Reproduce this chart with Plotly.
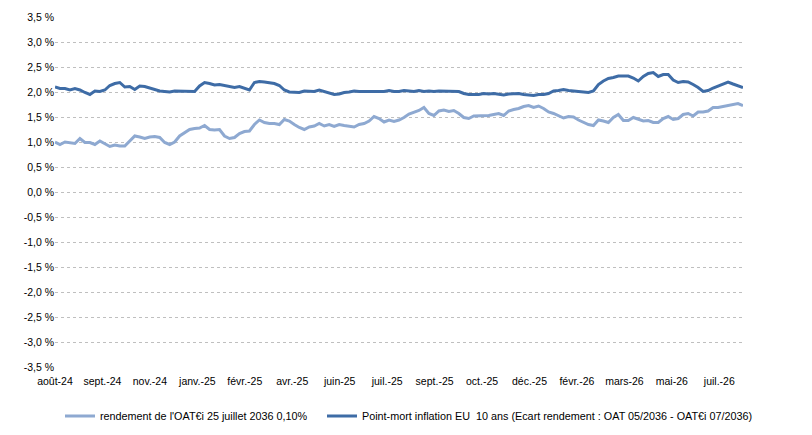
import plotly.graph_objects as go

# --- data (values in %) ---
rendement_oat_ei = [
    1.00, 0.95, 1.00, 0.99, 0.97, 1.07, 0.99, 0.99, 0.95, 1.02,
    0.97, 0.91, 0.94, 0.92, 0.92, 1.02, 1.12, 1.10, 1.07, 1.10,
    1.11, 1.09, 0.99, 0.95, 1.00, 1.12, 1.19, 1.25, 1.27, 1.28,
    1.33, 1.25, 1.24, 1.25, 1.12, 1.07, 1.09, 1.17, 1.21, 1.22,
    1.35, 1.44, 1.39, 1.37, 1.37, 1.35, 1.45, 1.42, 1.35, 1.29,
    1.25, 1.30, 1.32, 1.37, 1.32, 1.35, 1.31, 1.35, 1.33, 1.31,
    1.30, 1.35, 1.37, 1.42, 1.51, 1.47, 1.40, 1.44, 1.41, 1.44,
    1.49, 1.56, 1.59, 1.63, 1.69, 1.57, 1.53, 1.62, 1.64, 1.61,
    1.63, 1.57, 1.49, 1.47, 1.52, 1.52, 1.53, 1.53, 1.55, 1.57,
    1.53, 1.62, 1.65, 1.67, 1.71, 1.73, 1.69, 1.72, 1.67, 1.60,
    1.57, 1.53, 1.48, 1.51, 1.50, 1.44, 1.40, 1.35, 1.33, 1.44,
    1.42, 1.39, 1.49, 1.55, 1.43, 1.43, 1.49, 1.45, 1.42, 1.43,
    1.39, 1.39, 1.47, 1.51, 1.45, 1.47, 1.55, 1.57, 1.52, 1.60,
    1.60, 1.62, 1.69, 1.69, 1.71, 1.73, 1.75, 1.77, 1.73,
]

point_mort_inflation = [
    2.10, 2.07, 2.07, 2.04, 2.07, 2.04, 1.99, 1.95, 2.02, 2.01,
    2.04, 2.13, 2.17, 2.19, 2.10, 2.11, 2.05, 2.12, 2.11, 2.08,
    2.05, 2.02, 2.01, 2.00, 2.02, 2.02, 2.01, 2.01, 2.01, 2.12,
    2.19, 2.17, 2.14, 2.15, 2.13, 2.10, 2.09, 2.11, 2.07, 2.04,
    2.19, 2.21, 2.20, 2.19, 2.17, 2.13, 2.04, 2.00, 1.99, 1.99,
    2.02, 2.01, 2.01, 2.04, 2.01, 1.97, 1.95, 1.96, 1.99, 2.00,
    2.02, 2.01, 2.01, 2.01, 2.01, 2.02, 2.01, 2.03, 2.01, 2.01,
    2.03, 2.02, 2.01, 2.03, 2.01, 2.02, 2.01, 2.02, 2.02, 2.01,
    2.01, 2.01, 1.97, 1.95, 1.95, 1.95, 1.97, 1.96, 1.97, 1.95,
    1.94, 1.96, 1.97, 1.97, 1.95, 1.94, 1.93, 1.95, 1.95, 1.97,
    2.02, 2.03, 2.05, 2.03, 2.02, 2.01, 1.99, 1.99, 2.02, 2.15,
    2.22, 2.27, 2.29, 2.32, 2.32, 2.32, 2.28, 2.22, 2.31, 2.37,
    2.39, 2.31, 2.35, 2.35, 2.24, 2.19, 2.21, 2.20, 2.15, 2.09,
    2.01, 2.03, 2.08, 2.12, 2.17, 2.20, 2.16, 2.12, 2.09,
]

x_tick_labels = [
    "août-24", "sept.-24", "nov.-24", "janv.-25", "févr.-25", "avr.-25",
    "juin-25", "juil.-25", "sept.-25", "oct.-25", "déc.-25", "févr.-26",
    "mars-26", "mai-26", "juil.-26",
]

y_tick_values = [-3.5, -3.0, -2.5, -2.0, -1.5, -1.0, -0.5, 0.0,
                 0.5, 1.0, 1.5, 2.0, 2.5, 3.0, 3.5]
y_tick_labels = ["-3,5 %", "-3,0 %", "-2,5 %", "-2,0 %", "-1,5 %", "-1,0 %",
                 "-0,5 %", "0,0 %", "0,5 %", "1,0 %", "1,5 %", "2,0 %",
                 "2,5 %", "3,0 %", "3,5 %"]

series_names = [
    "rendement de l'OAT€i 25 juillet 2036 0,10%",
    "Point-mort inflation EU  10 ans (Ecart rendement : OAT 05/2036 - OAT€i 07/2036)",
]

n = len(rendement_oat_ei)
x_idx = list(range(n))
tick_step = (n - 1) / 14.5
x_tick_vals = [k * tick_step for k in range(len(x_tick_labels))]

FONT = "Liberation Sans, Arial, sans-serif"
LEG_FONT = dict(family=FONT, size=10.8, color="#000000")

# the page body adds an 8px offset; the figure is sized to fit the window
W, H, OFF = 804, 427, 8

fig = go.Figure()
fig.add_trace(go.Scatter(
    x=x_idx, y=rendement_oat_ei, mode="lines", name=series_names[0],
    line=dict(color="#8EA9D1", width=3), legend="legend",
))
fig.add_trace(go.Scatter(
    x=x_idx, y=point_mort_inflation, mode="lines", name=series_names[1],
    line=dict(color="#3E6CA6", width=3), legend="legend2",
))

fig.update_layout(
    width=W, height=H,
    margin=dict(l=47, r=69, t=9, b=68, autoexpand=False),
    paper_bgcolor="white", plot_bgcolor="white",
    font=dict(family=FONT, size=10.5, color="#000000"),
    showlegend=True,
    legend=dict(
        xref="container", yref="container",
        x=(60 - OFF) / W, xanchor="left", y=1 - (416 - OFF) / H, yanchor="middle",
        font=LEG_FONT, itemwidth=30, bgcolor="rgba(0,0,0,0)",
    ),
    legend2=dict(
        xref="container", yref="container",
        x=(322 - OFF) / W, xanchor="left", y=1 - (416 - OFF) / H, yanchor="middle",
        font=LEG_FONT, itemwidth=30, bgcolor="rgba(0,0,0,0)",
    ),
)
fig.update_xaxes(
    range=[0, n - 1], tickmode="array", tickvals=x_tick_vals, ticktext=x_tick_labels,
    showgrid=False, zeroline=False, showline=False, ticks="",
    ticklabelstandoff=6, automargin=False,
    tickfont=dict(family=FONT, size=10.5, color="#000000"),
    tickangle=0,
)
fig.update_yaxes(
    range=[-3.5, 3.5], tickmode="array", tickvals=y_tick_values, ticktext=y_tick_labels,
    showgrid=True, gridcolor="#BFBFBF", gridwidth=1, griddash="dot",
    zeroline=False, showline=False, ticks="", automargin=False,
    tickfont=dict(family=FONT, size=10.5, color="#000000"),
)

fig.write_html("out.html")
